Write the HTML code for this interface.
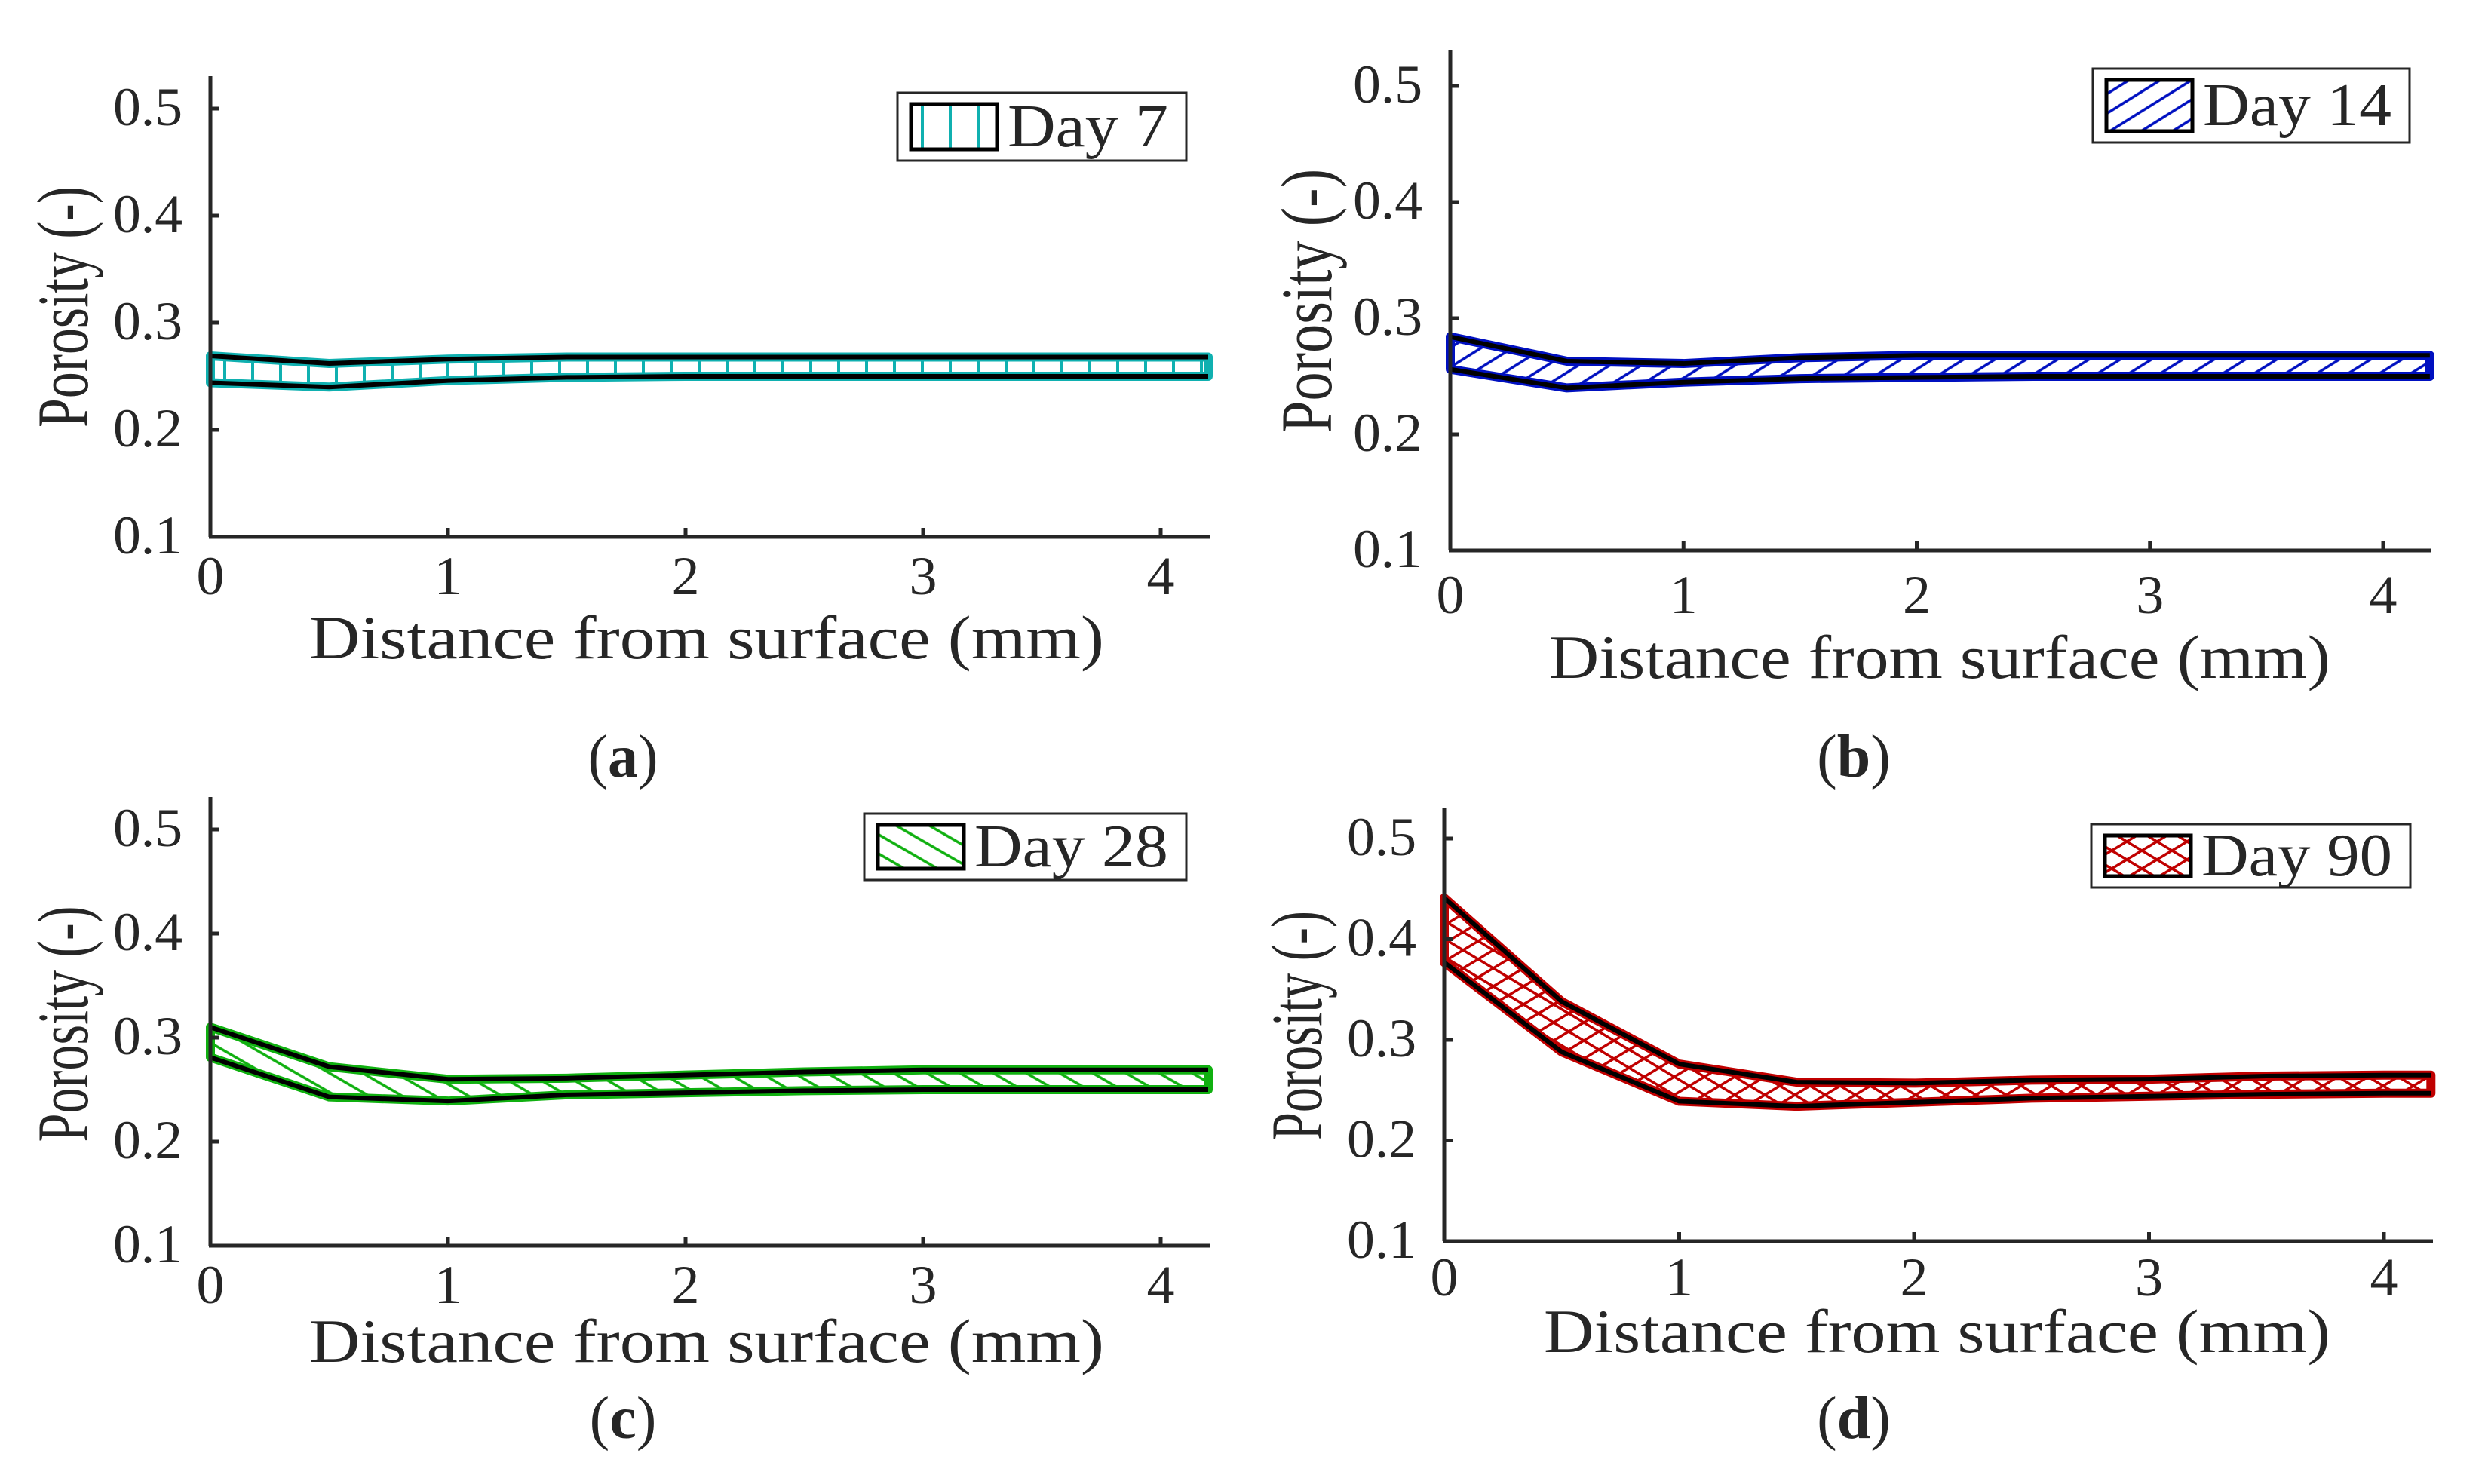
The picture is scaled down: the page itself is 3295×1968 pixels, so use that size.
<!DOCTYPE html>
<html><head><meta charset="utf-8"><style>
html,body{margin:0;padding:0;background:#fff;}
svg{display:block;}
text{font-family:"Liberation Serif","Times New Roman",serif;fill:#262626;}
</style></head><body>
<svg id="fig" width="3295" height="1968" viewBox="0 0 3295 1968" xmlns="http://www.w3.org/2000/svg">
<defs>
<pattern id="hatchA" patternUnits="userSpaceOnUse" width="37" height="40"><line x1="2" y1="0" x2="2" y2="40" stroke="#10b0b0" stroke-width="4"/></pattern>
<pattern id="hatchB" patternUnits="userSpaceOnUse" width="40" height="22" patternTransform="rotate(-32)"><line x1="0" y1="2" x2="40" y2="2" stroke="#0010c0" stroke-width="3.5"/></pattern>
<pattern id="hatchC" patternUnits="userSpaceOnUse" width="40" height="22" patternTransform="rotate(30)"><line x1="0" y1="2" x2="40" y2="2" stroke="#10b010" stroke-width="3.5"/></pattern>
<pattern id="hatchD" patternUnits="userSpaceOnUse" width="40" height="24"><line x1="0" y1="0" x2="40" y2="24" stroke="#c00000" stroke-width="3.5"/><line x1="0" y1="24" x2="40" y2="0" stroke="#c00000" stroke-width="3.5"/></pattern>
</defs>
</svg>
<script>
const xVals=[0,0.5,1,1.5,2,2.5,3,3.5,4,4.2];
const upperA=[0.269,0.262,0.266,0.268,0.268,0.268,0.268,0.268,0.268,0.268];
const lowerA=[0.244,0.240,0.246,0.249,0.250,0.250,0.250,0.250,0.250,0.250];
const upperB=[0.284,0.263,0.261,0.266,0.268,0.268,0.268,0.268,0.268,0.268];
const lowerB=[0.256,0.240,0.245,0.248,0.249,0.250,0.250,0.250,0.250,0.250];
const upperC=[0.310,0.272,0.260,0.261,0.264,0.267,0.269,0.269,0.269,0.269];
const lowerC=[0.281,0.243,0.239,0.245,0.247,0.249,0.250,0.250,0.250,0.250];
const upperD=[0.441,0.338,0.276,0.258,0.257,0.260,0.261,0.264,0.265,0.265];
const lowerD=[0.377,0.288,0.239,0.234,0.238,0.242,0.244,0.246,0.247,0.247];
const xTicks=[0,1,2,3,4];
const yTicks=[0.1,0.2,0.3,0.4,0.5];
const legendLabels=["Day 7","Day 14","Day 28","Day 90"];
const subLabels=["a","b","c","d"];

const NS="http://www.w3.org/2000/svg";
const svg=document.getElementById('fig');
function mk(tag,attrs,parent){const e=document.createElementNS(NS,tag);for(const k in attrs)e.setAttribute(k,attrs[k]);(parent||svg).appendChild(e);return e;}

const panels=[
 {x0:279,x4:1539,xr:1605,y1:712,y5:144,top:101,up:upperA,lo:lowerA,col:"#10b0b0",pat:"hatchA",leg:[1190,123,1573,213],xl:[410,1464,873],yl:[116,407,320],tlb:788,cap:[826,1030]},
 {x0:1923,x4:3160,xr:3224,y1:730,y5:114,top:66,up:upperB,lo:lowerB,col:"#0010c0",pat:"hatchB",leg:[2775,91,3195,189],xl:[2054,3090,899],yl:[1765,399,350],tlb:813,cap:[2458,1030]},
 {x0:279,x4:1539,xr:1605,y1:1652,y5:1100,top:1057,up:upperC,lo:lowerC,col:"#10b010",pat:"hatchC",leg:[1146,1079,1573,1167],xl:[410,1464,1806],yl:[116,1358,313],tlb:1728,cap:[826,1907]},
 {x0:1915,x4:3161,xr:3226,y1:1646,y5:1112,top:1071,up:upperD,lo:lowerD,col:"#c00000",pat:"hatchD",leg:[2773,1093,3196,1177],xl:[2047,3090,1793],yl:[1752,1360,304],tlb:1718,cap:[2458,1907]}
];

panels.forEach((p,i)=>{
  const g=mk('g',{});
  
  
  const sx=v=>p.x0+(p.x4-p.x0)*v/4;
  const sy=v=>p.y1-(p.y1-p.y5)*(v-0.1)/0.4;
  let pts=xVals.map((x,k)=>sx(x)+','+sy(p.up[k]));
  let ptsL=xVals.map((x,k)=>sx(x)+','+sy(p.lo[k]));
  const band=mk('polygon',{points:pts.concat(ptsL.slice().reverse()).join(' '),fill:'url(#'+p.pat+')',stroke:p.col,'stroke-width':12,'stroke-linejoin':'round'},g);
  
  
  const lu=mk('polyline',{points:pts.join(' '),fill:'none',stroke:'#000','stroke-width':6},g);
  
  
  const ll=mk('polyline',{points:ptsL.join(' '),fill:'none',stroke:'#000','stroke-width':6},g);
  
  
  const ya=mk('line',{x1:p.x0,y1:p.top,x2:p.x0,y2:p.y1,stroke:'#262626','stroke-width':5},g);
  
  
  const xa=mk('line',{x1:p.x0-2,y1:p.y1,x2:p.xr,y2:p.y1,stroke:'#262626','stroke-width':5},g);
  
  
  xTicks.forEach(t=>{
    const tm=mk('line',{x1:sx(t),y1:p.y1,x2:sx(t),y2:p.y1-12,stroke:'#262626','stroke-width':5},g);
    
    
    const tl=mk('text',{x:sx(t),y:p.tlb,'font-size':72,'text-anchor':'middle',textLength:37,lengthAdjust:'spacingAndGlyphs'},g);
    tl.textContent=String(t);
    
    
  });
  yTicks.forEach(t=>{
    const tm=mk('line',{x1:p.x0,y1:sy(t),x2:p.x0+12,y2:sy(t),stroke:'#262626','stroke-width':5},g);
    
    
    const tl=mk('text',{x:p.x0-37,y:sy(t)+22,'font-size':72,'text-anchor':'end',textLength:92,lengthAdjust:'spacingAndGlyphs'},g);
    tl.textContent=t.toFixed(1);
    
    
  });
  const xt=mk('text',{x:p.xl[0],y:p.xl[2],'font-size':82,textLength:p.xl[1]-p.xl[0],lengthAdjust:'spacingAndGlyphs'},g);
  xt.textContent='Distance from surface (mm)';
  
  
  const yt=mk('text',{x:0,y:0,'font-size':96,'text-anchor':'middle',textLength:p.yl[2],lengthAdjust:'spacingAndGlyphs',transform:'translate('+p.yl[0]+','+p.yl[1]+') rotate(-90)'},g);
  yt.textContent='Porosity (-)';
  
  
  const L=p.leg;
  const lg=mk('g',{},g);
  
  
  mk('rect',{x:L[0],y:L[1],width:L[2]-L[0],height:L[3]-L[1],fill:'#fff',stroke:'#262626','stroke-width':3},lg);
  const sh=L[3]-L[1]-30;
  const sw=mk('rect',{x:L[0]+18,y:L[1]+15,width:114,height:sh,fill:'url(#'+p.pat+')',stroke:'#000','stroke-width':5},lg);
  
  
  const lt=mk('text',{x:L[0]+146,y:L[1]+(L[3]-L[1])/2+26,'font-size':80,textLength:(L[2]-L[0])-170,lengthAdjust:'spacingAndGlyphs'},lg);
  lt.textContent=legendLabels[i];
  
  
  const cp=mk('text',{x:p.cap[0],y:p.cap[1],'font-size':80,'text-anchor':'middle'},g);
  cp.innerHTML='(<tspan font-weight="bold">'+subLabels[i]+'</tspan>)';
  
  
});
</script>
</body></html>
